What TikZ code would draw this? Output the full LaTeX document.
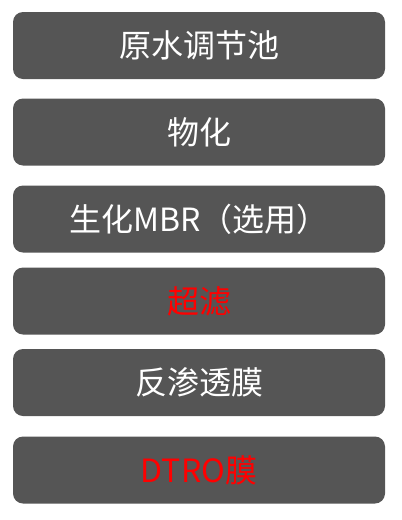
\documentclass[tikz,border=0pt]{standalone}
\usepackage{fontspec}
\newfontfamily\cjk{Noto Sans CJK SC}
\definecolor{boxgray}{HTML}{555555}
\tikzset{
  stage/.style={fill=boxgray, rounded corners=10pt, minimum width=372pt,
    minimum height=67pt, text=white, font=\cjk\fontsize{32}{32}\selectfont},
  hot/.style={text=red}
}
\begin{document}
\begin{tikzpicture}[x=1pt,y=1pt]
  \useasboundingbox (0,0) rectangle (402,-520);
  % \node(0) at (199,-20){};
  \node[stage](1) at (199,-45.5){原水调节池};
  \node[stage](2) at (199,-132){物化};
  \node[stage](3) at (199,-219){生化MBR（选用）};
  \node[stage,hot](4) at (199,-301){超滤};
  \node[stage](5) at (199,-382.5){反渗透膜};
  \node[stage,hot](6) at (199,-470){DTRO膜};
\end{tikzpicture}
\end{document}
